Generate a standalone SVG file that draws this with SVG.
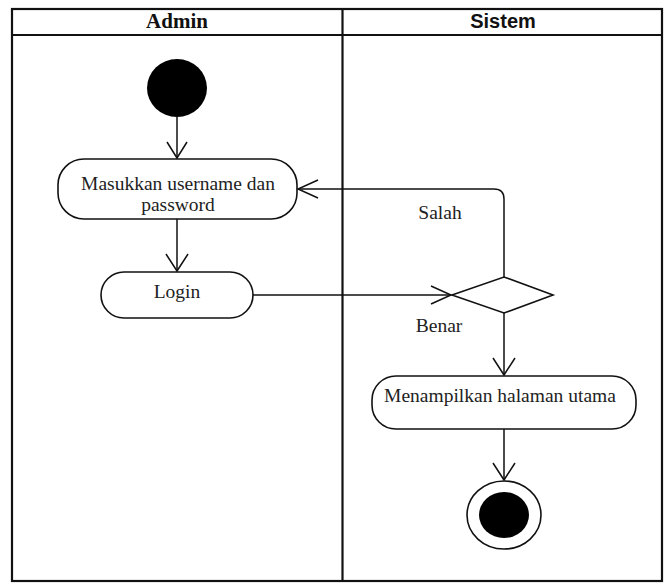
<svg xmlns="http://www.w3.org/2000/svg" width="664" height="584" viewBox="0 0 664 584">
<style>
.lane{fill:none;stroke:#111;stroke-width:2.2}
.node{fill:#fff;stroke:#111;stroke-width:1.6}
.t{font-family:"Liberation Serif",serif;font-size:19.5px;fill:#222;text-anchor:middle}
.edge{fill:none;stroke:#111;stroke-width:1.5}
.head{fill:none;stroke:#111;stroke-width:1.5}
</style>
<rect width="664" height="584" fill="#fff"/>
<g id="swimlanes">
<rect class="lane" x="12" y="9" width="650" height="572"/>
<line class="lane" x1="12" y1="35" x2="662" y2="35"/>
<line class="lane" x1="342.5" y1="9" x2="342.5" y2="581" stroke-width="2.6"/>
<text x="177" y="28" font-family="Liberation Serif,serif" font-size="21" font-weight="bold" text-anchor="middle" fill="#111">Admin</text>
<text x="503" y="28" font-family="Liberation Sans,sans-serif" font-size="20" font-weight="bold" text-anchor="middle" fill="#111">Sistem</text>
</g>
<g id="start"><ellipse cx="177" cy="88" rx="30" ry="29" fill="#000"/></g>
<g id="masukkan">
<rect class="node" x="58" y="159" width="239" height="60" rx="26"/>
<text class="t" x="178" y="190">Masukkan username dan</text>
<text class="t" x="178" y="211">password</text>
</g>
<g id="login">
<rect class="node" x="101" y="272" width="152" height="46" rx="23"/>
<text class="t" x="177" y="298">Login</text>
</g>
<g id="decision"><polygon class="node" points="452,295 504,277 553,295 504,313"/></g>
<g id="menampilkan">
<rect class="node" x="372" y="376" width="264" height="53" rx="24"/>
<text class="t" x="500" y="402">Menampilkan halaman utama</text>
</g>
<g id="end">
<ellipse cx="504" cy="515" rx="37" ry="34" fill="#fff" stroke="#111" stroke-width="1.6"/>
<ellipse cx="504" cy="515" rx="25" ry="23" fill="#000"/>
</g>
<g id="connectors">
<line class="edge" x1="177" y1="117" x2="177" y2="158"/>
<polyline class="head" points="167,142 177,158 187,142"/>
<line class="edge" x1="177" y1="219" x2="177" y2="271"/>
<polyline class="head" points="166,254 177,271 188,254"/>
<line class="edge" x1="253" y1="295" x2="451" y2="295"/>
<polyline class="head" points="431,286 451,295 431,304"/>
<path class="edge" d="M504,277 V199 Q504,189 494,189 H298"/>
<polyline class="head" points="318,180 298,189 318,198"/>
<line class="edge" x1="504" y1="313" x2="504" y2="375"/>
<polyline class="head" points="493,358 504,375 515,358"/>
<line class="edge" x1="504" y1="429" x2="504" y2="480"/>
<polyline class="head" points="493,463 504,480 515,463"/>
<text class="t" x="440" y="219">Salah</text>
<text class="t" x="439" y="332">Benar</text>
</g>
</svg>
